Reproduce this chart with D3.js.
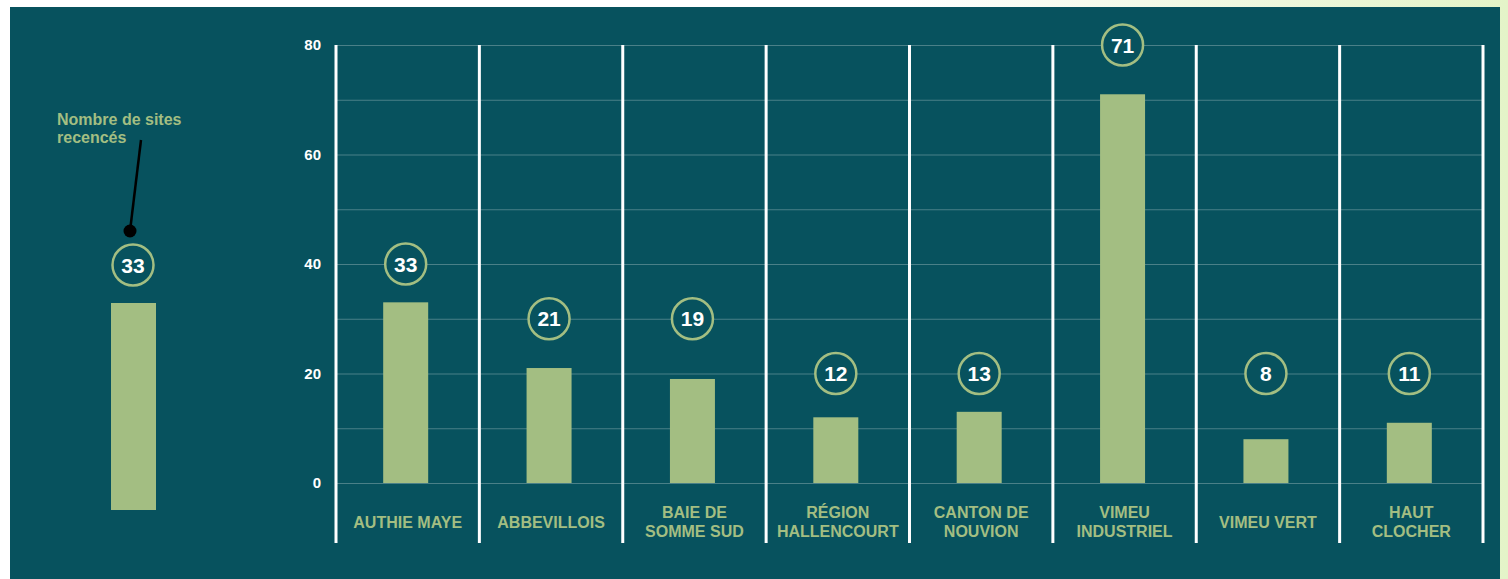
<!DOCTYPE html>
<html>
<head>
<meta charset="utf-8">
<script src="https://cdn.jsdelivr.net/npm/d3@7"></script>
<style>
body { margin: 0; background: linear-gradient(90deg, #ffffff 0%, #ffffff 60%, #eef7dc 85%, #e4f4c8 100%); }
svg { display: block; font-family: "Liberation Sans", Arial, sans-serif; }
</style>
</head>
<body>
<div id="chart-area"></div>
<script>
var categories = ["AUTHIE MAYE", "ABBEVILLOIS", "BAIE DE SOMME SUD", "RÉGION HALLENCOURT",
	"CANTON DE NOUVION", "VIMEU INDUSTRIEL", "VIMEU VERT", "HAUT CLOCHER"];
var labelLines = [["AUTHIE MAYE"], ["ABBEVILLOIS"], ["BAIE DE", "SOMME SUD"], ["RÉGION", "HALLENCOURT"],
	["CANTON DE", "NOUVION"], ["VIMEU", "INDUSTRIEL"], ["VIMEU VERT"], ["HAUT", "CLOCHER"]];
var sites = [33, 21, 19, 12, 13, 71, 8, 11];
var yTicks = [0, 20, 40, 60, 80];
var gridTicks = [0, 10, 20, 30, 40, 50, 60, 70, 80];
var legendText = ["Nombre de sites", "recencés"];

var W = 1508, H = 579;
var teal = "#07525e", green = "#a3be82";

var svg = d3.select("#chart-area")
	.append("svg")
	.attr("width", W)
	.attr("height", H);

// panel
svg.append("rect")
	.attr("x", 10).attr("y", 7)
	.attr("width", 1490).attr("height", H - 7)
	.attr("fill", teal);

var x = d3.scaleBand().domain(categories).range([336, 1483]).padding(0);
var y = d3.scaleLinear().domain([0, 80]).range([483, 45]);

// grid lines
svg.append("g")
	.attr("transform", "translate(336,0)")
	.call(d3.axisLeft(y).tickValues(gridTicks).tickSize(-(1483 - 336)).tickFormat(""))
	.call(g => g.select(".domain").remove())
	.selectAll("line")
	.attr("stroke", "#4a8088")
	.attr("stroke-width", 1);

// tick labels
svg.append("g")
	.attr("transform", "translate(321,0)")
	.call(d3.axisLeft(y).tickValues(yTicks).tickSize(0).tickPadding(0))
	.call(g => g.select(".domain").remove())
	.selectAll("text")
	.attr("fill", "#ffffff")
	.attr("font-size", "15px")
	.attr("font-weight", "bold")
	.attr("font-family", "Liberation Sans, Arial, sans-serif");

// separators
var bounds = categories.map(c => x(c)).concat([x.range()[1]]);
svg.selectAll(".sep").data(bounds).enter().append("line")
	.attr("class", "sep")
	.attr("x1", d => d).attr("x2", d => d)
	.attr("y1", 45).attr("y2", 543)
	.attr("stroke", "#ffffff")
	.attr("stroke-width", 3);

var barW = 45;
var data = categories.map((c, i) => ({cat: c, v: sites[i], lines: labelLines[i]}));

svg.selectAll(".bar").data(data).enter().append("rect")
	.attr("class", "bar")
	.attr("x", d => x(d.cat) + x.bandwidth() / 2 - barW / 2 - 2)
	.attr("y", d => y(d.v))
	.attr("width", barW)
	.attr("height", d => y(0) - y(d.v))
	.attr("fill", green);

// value badges snap to the next gridline above the bar
function badgeLevel(v) { return Math.ceil((v + 7) / 10) * 10; }

var badge = svg.selectAll(".badge").data(data).enter().append("g")
	.attr("class", "badge")
	.attr("transform", d => "translate(" + (x(d.cat) + x.bandwidth() / 2 - 2) + "," + y(badgeLevel(d.v)) + ")");
badge.append("circle")
	.attr("r", 20.5)
	.attr("fill", teal)
	.attr("stroke", green)
	.attr("stroke-width", 2.5);
badge.append("text")
	.attr("text-anchor", "middle")
	.attr("dy", "0.36em")
	.attr("fill", "#ffffff")
	.attr("font-size", "21px")
	.attr("font-weight", "bold")
	.text(d => d.v);

// category labels
var lab = svg.selectAll(".cat").data(data).enter().append("text")
	.attr("class", "cat")
	.attr("text-anchor", "middle")
	.attr("fill", green)
	.attr("font-size", "16px")
	.attr("font-weight", "bold");
lab.selectAll("tspan").data(d => d.lines.map(l => ({l: l, n: d.lines.length, x: x(d.cat) + x.bandwidth() / 2})))
	.enter().append("tspan")
	.attr("x", d => d.x)
	.attr("y", (d, i) => d.n === 1 ? 528 : 518 + i * 19)
	.text(d => d.l);

// legend
var ly = d3.scaleLinear().domain([0, sites[0]]).range([510, 303]);
svg.append("rect")
	.attr("x", 111).attr("y", ly(sites[0]))
	.attr("width", barW)
	.attr("height", ly(0) - ly(sites[0]))
	.attr("fill", green);
var lb = svg.append("g").attr("transform", "translate(133," + (ly(sites[0]) - 38) + ")");
lb.append("circle").attr("r", 20.5).attr("fill", teal).attr("stroke", green).attr("stroke-width", 2.5);
lb.append("text")
	.attr("text-anchor", "middle").attr("dy", "0.36em")
	.attr("fill", "#ffffff").attr("font-size", "21px").attr("font-weight", "bold")
	.text(sites[0]);

svg.append("line")
	.attr("x1", 130).attr("y1", 231)
	.attr("x2", 141).attr("y2", 140)
	.attr("stroke", "#000000").attr("stroke-width", 2.5);
svg.append("circle")
	.attr("cx", 130).attr("cy", 231).attr("r", 6.5)
	.attr("fill", "#000000");

svg.append("text")
	.attr("fill", green)
	.attr("font-size", "16px")
	.attr("font-weight", "bold")
	.selectAll("tspan").data(legendText).enter().append("tspan")
	.attr("x", 57)
	.attr("y", (d, i) => 125 + i * 18)
	.text(d => d);
</script>
</body>
</html>
